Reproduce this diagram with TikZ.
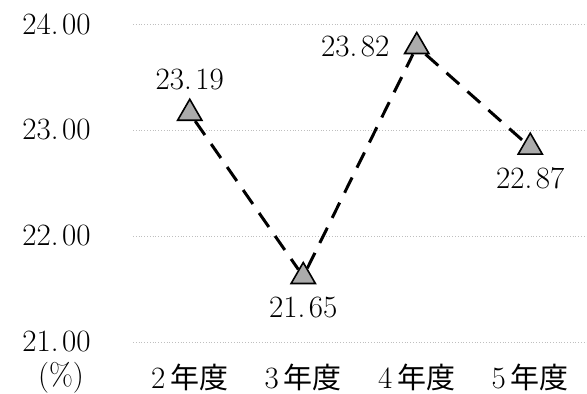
\documentclass[tikz,border=0pt]{standalone}
\usepackage{fontspec}
\newfontfamily\jpfont{Noto Sans CJK JP}
\usepackage{tikz}
\usetikzlibrary{positioning,shapes.geometric}
\tikzstyle{marker}=[draw,fill=black!33,regular polygon,regular polygon sides=3,minimum size=14pt,inner sep=0pt,line width=0.8pt,yshift=-1.7pt]
\tikzstyle{val}=[font=\fontsize{15.5}{17}\selectfont,inner sep=1pt]
\tikzstyle{gridline}=[black!25,densely dotted,line width=0.4pt]
\tikzstyle{trend}=[line width=1.5pt,dash pattern=on 8.5pt off 5.5pt]
\newcommand{\pt}{.\kern1.8pt}

\begin{document}
\begin{tikzpicture}[x=0.5pt,y=-0.5pt]
\useasboundingbox (0,0) rectangle (587,394);
% grid and axis labels
\foreach \g in {21,...,24} {
  \draw[gridline] (133,{24+(24-\g)*106}) -- (587,{24+(24-\g)*106});
  \node[val,anchor=east] (y\g) at (93,{24+(24-\g)*106}) {\g\pt00};
}
\node[val] (unit) at (61,378) {(\%)};
\foreach \t [count=\i] in {2,3,4,5}
  \node[val] (c\i) at ({76.25+113.5*\i},377) {\t\,{\jpfont\fontsize{14.5}{17}\selectfont 年度}};
% data points
\foreach \v [count=\i] in {23.19,21.65,23.82,22.87}
  \node[marker] (p\i) at ({76.25+113.5*\i},{24+(24-\v)*106}) {};
\draw[trend] (p1) -- (p2) -- (p3) -- (p4);
\node[val,above=2.5pt of p1] (l1) {23\pt19};
\node[val,below=5pt of p2] (l2) {21\pt65};
\node[val,left=8pt of p3] (l3) {23\pt82};
\node[val,below=5pt of p4] (l4) {22\pt87};
\end{tikzpicture}
\end{document}
